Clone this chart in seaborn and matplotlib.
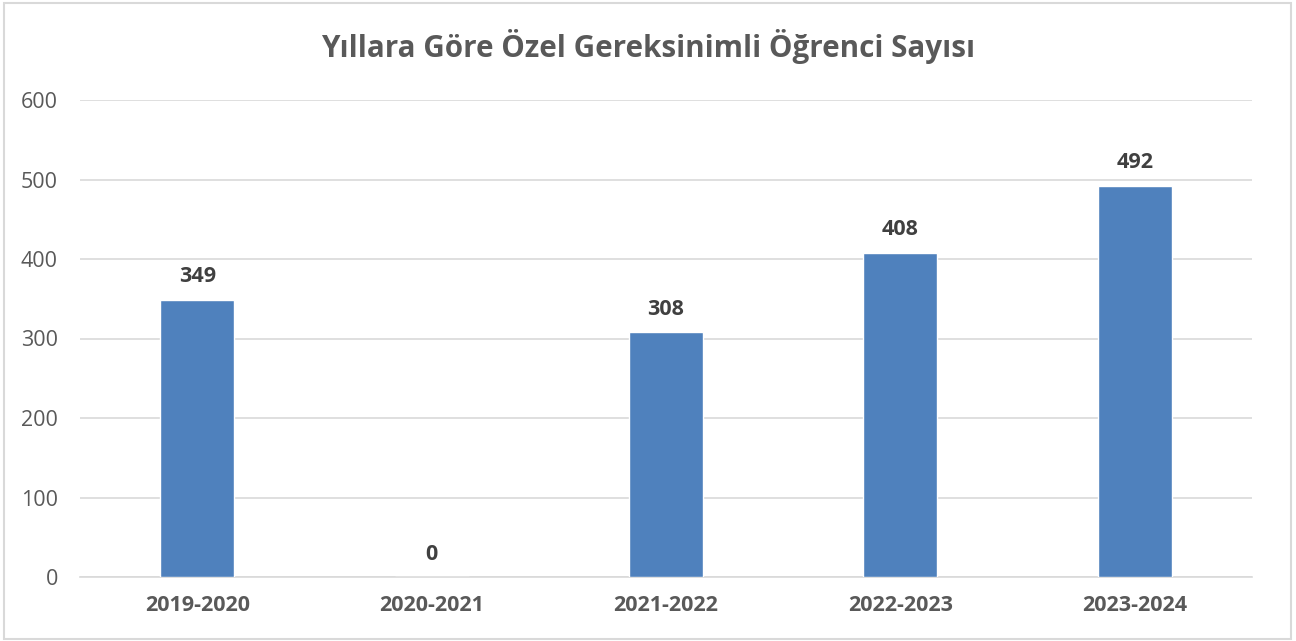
import matplotlib
matplotlib.use("Agg")
import matplotlib.pyplot as plt
import seaborn as sns
import pandas as pd

# ── Data ──────────────────────────────────────────────────────────────────────
years  = ["2019-2020", "2020-2021", "2021-2022", "2022-2023", "2023-2024"]
counts = [349, 0, 308, 408, 492]
yticks = [0, 100, 200, 300, 400, 500, 600]

TITLE = "Yıllara Göre Özel Gereksinimli Öğrenci Sayısı"

# ── Theme ─────────────────────────────────────────────────────────────────────
BAR   = "#4F81BD"
GRID  = "#D9D9D9"
TEXT  = "#595959"
LABEL = "#404040"

sns.set_theme(style="white")
plt.rcParams["font.family"] = ["Open Sans", "DejaVu Sans"]

df = pd.DataFrame({"Year": years, "Count": counts})

fig = plt.figure(figsize=(12.96, 6.41), dpi=100, facecolor="white")
ax = fig.add_axes([80 / 1296, 1 - 577 / 641, (1252 - 80) / 1296, (577 - 100) / 641])

sns.barplot(data=df, x="Year", y="Count", color=BAR, width=0.316,
            saturation=1, ax=ax, zorder=3)

ax.set_ylim(0, 600)
ax.set_yticks(yticks)
ax.yaxis.grid(True, color=GRID, linewidth=1.2, zorder=0)
for s in ["top", "right", "left"]:
    ax.spines[s].set_visible(False)
ax.spines["bottom"].set_color(GRID)
ax.spines["bottom"].set_linewidth(1.2)
ax.set_xlabel("")
ax.set_ylabel("")
ax.tick_params(axis="y", length=0, pad=16, labelsize=15.5, labelcolor=TEXT)
ax.tick_params(axis="x", length=0, pad=13, labelsize=15.5, labelcolor=TEXT)
for lbl in ax.get_xticklabels():
    lbl.set_fontweight("bold")

for i, v in enumerate(counts):
    ax.annotate(f"{v}", xy=(i, v), xytext=(0, 9), textcoords="offset points",
                ha="center", va="bottom", fontsize=15.5, fontweight="bold", color=LABEL)

fig.text(0.5, 1 - 47 / 641, TITLE, ha="center", va="center",
         fontsize=21.3, fontweight="bold", color=TEXT)

# chart border
fig.patches.append(plt.Rectangle((4 / 1296, 2 / 641), 1 - 9 / 1296, 1 - 5 / 641,
                                 transform=fig.transFigure, fill=False,
                                 edgecolor=GRID, linewidth=1.5))

fig.savefig("out.png", dpi=100, facecolor="white")
